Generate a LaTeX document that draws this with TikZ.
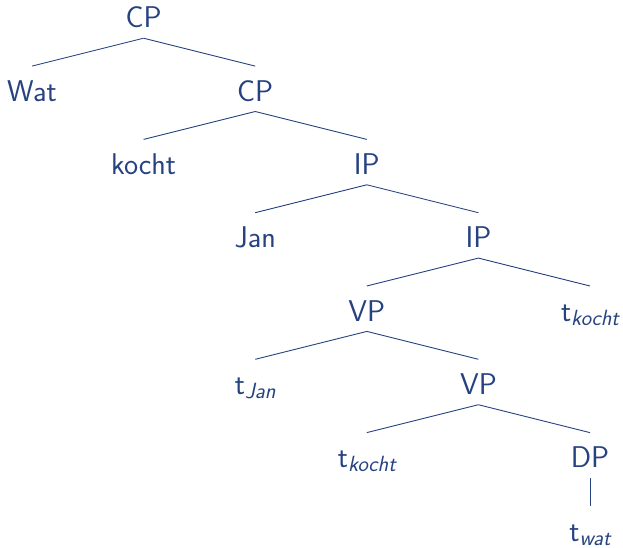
\documentclass[tikz,border=0pt]{standalone}
\usepackage{tikz}
\definecolor{treeblue}{RGB}{38,66,128}
\pgfdeclarelayer{edgelayer}
\pgfdeclarelayer{nodelayer}
\pgfsetlayers{edgelayer,nodelayer,main}
\tikzstyle{category}=[anchor=base,inner xsep=2pt,inner ysep=5pt,text height=30pt,text depth=5pt,text=treeblue,font=\sffamily\fontsize{30}{36}\selectfont]
\tikzstyle{branch}=[draw=treeblue,line width=0.9pt]
\newcommand{\trace}[1]{t\raisebox{-4pt}{\fontsize{22}{26}\selectfont\itshape #1}}

\begin{document}
\begin{tikzpicture}[x=111.6pt,y=-73.3pt]
	\useasboundingbox (-32pt,28pt) rectangle (591pt,-520pt);
	\begin{pgfonlayer}{nodelayer}
		\node [style=category] (0) at (1, 0) {CP};
		\node [style=category] (1) at (0, 1) {Wat};
		\node [style=category] (2) at (2, 1) {CP};
		\node [style=category] (3) at (1, 2) {kocht};
		\node [style=category] (4) at (3, 2) {IP};
		\node [style=category] (5) at (2, 3) {Jan};
		\node [style=category] (6) at (4, 3) {IP};
		\node [style=category] (7) at (3, 4) {VP};
		\node [style=category] (8) at (5, 4) {\trace{kocht}};
		\node [style=category] (9) at (2, 5) {\trace{Jan}};
		\node [style=category] (10) at (4, 5) {VP};
		\node [style=category] (11) at (3, 6) {\trace{kocht}};
		\node [style=category] (12) at (5, 6) {DP};
		\node [style=category] (13) at (5, 7) {\trace{wat}};
	\end{pgfonlayer}
	\begin{pgfonlayer}{edgelayer}
		\draw [style=branch] (0.south) -- (1.north);
		\draw [style=branch] (0.south) -- (2.north);
		\draw [style=branch] (2.south) -- (3.north);
		\draw [style=branch] (2.south) -- (4.north);
		\draw [style=branch] (4.south) -- (5.north);
		\draw [style=branch] (4.south) -- (6.north);
		\draw [style=branch] (6.south) -- (7.north);
		\draw [style=branch] (6.south) -- (8.north);
		\draw [style=branch] (7.south) -- (9.north);
		\draw [style=branch] (7.south) -- (10.north);
		\draw [style=branch] (10.south) -- (11.north);
		\draw [style=branch] (10.south) -- (12.north);
		\draw [style=branch] (12.south) -- (13.north);
	\end{pgfonlayer}
\end{tikzpicture}
\end{document}
